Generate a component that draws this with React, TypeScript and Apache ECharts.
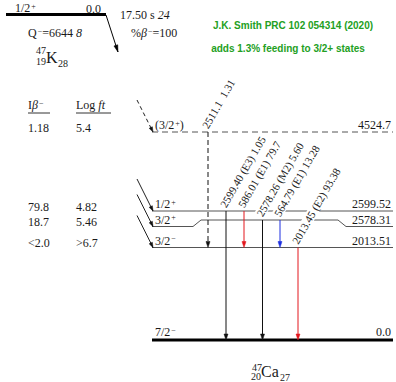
import React, { useEffect, useRef } from "react";
import * as echarts from "echarts";

// ---------------- data ----------------
const parentSpin = "1/2+";
const parentEnergy = "0.0";
const parentHalfLife = "17.50 s";
const parentHalfLifeUnc = "24";
const qValue = "6644";
const qValueUnc = "8";
const betaBranch = "100";
const noteLines = ["J.K. Smith PRC 102 054314 (2020)", "adds 1.3% feeding to 3/2+ states"];

const levelEnergies = ["4524.7", "2599.52", "2578.31", "2013.51", "0.0"];
const levelSpins = ["(3/2+)", "1/2+", "3/2+", "3/2-", "7/2-"];
const betaIntensities = ["1.18", "79.8", "18.7", "<2.0", ""];
const logFtValues = ["5.4", "4.82", "5.46", ">6.7", ""];

const gammaEnergies = ["2511.1", "2599.40", "586.01", "2578.26", "564.79", "2013.45"];
const gammaMultipolarities = ["", "(E3)", "(E1)", "(M2)", "(E1)", "(E2)"];
const gammaIntensities = ["1.31", "1.05", "79.7", "5.60", "13.28", "93.38"];
const gammaFromLevel = [0, 1, 1, 2, 2, 3];
const gammaToLevel = [3, 4, 3, 4, 3, 4];

// ---------------- layout ----------------
const SERIF = "'Liberation Serif', 'Times New Roman', serif";
const SANS = "'Liberation Sans', Arial, sans-serif";
const LEVEL_Y = [132, 211, 226.5, 247.5, 340];
const LEVEL_X0 = 152;
const LEVEL_X1 = 393;
const KINK = { level: 2, y: 220, xs: [193, 201, 338, 346] };
const GAMMA_X = [208, 226, 244, 262.5, 280, 298];
const GAMMA_COLORS = ["#111", "#111", "#e3161d", "#111", "#1c2fe0", "#e3161d"];
const TEXT = "#1a1a1a";

const RICH = {
  p: { fontSize: 8, fontFamily: SERIF, fill: TEXT, verticalAlign: "top", padding: [0, 0, 0, 1] },
  i: { fontSize: 12, fontFamily: SERIF, fill: TEXT, fontStyle: "italic" },
};

// "+"/"-" in spins and signs become raised superscripts
function supRich(s: string) {
  return s.replace(/[+-]/g, (m) => `{p|${m === "-" ? "−" : "+"}}`);
}

function levelYAt(i: number, x: number) {
  if (i === KINK.level && x >= KINK.xs[1] && x <= KINK.xs[2]) return KINK.y;
  return LEVEL_Y[i];
}

function arrowHead(tip: number[], from: number[], color: string, len = 6, hw = 2) {
  const dx = tip[0] - from[0];
  const dy = tip[1] - from[1];
  const l = Math.hypot(dx, dy) || 1;
  const ux = dx / l;
  const uy = dy / l;
  const bx = tip[0] - ux * len;
  const by = tip[1] - uy * len;
  return {
    type: "polygon",
    shape: { points: [tip, [bx - uy * hw, by + ux * hw], [bx + uy * hw, by - ux * hw]] },
    style: { fill: color, stroke: color, lineWidth: 0.5 },
  };
}

function txt(x: number, y: number, text: string, size: number, align: string, vAlign: string, extra: any = {}) {
  return {
    type: "text",
    x,
    y,
    style: {
      text,
      x: 0,
      y: 0,
      fontSize: size,
      fontFamily: SERIF,
      fill: TEXT,
      align,
      verticalAlign: vAlign,
      rich: RICH,
      ...extra,
    },
  };
}

const parentSeries = {
  type: "custom",
  coordinateSystem: "cartesian2d",
  z: 2,
  data: [[0, 0]],
  renderItem: (_params: any, api: any) => {
    const P = (x: number, y: number) => api.coord([x, y]);
    const l0 = P(6, 14.5);
    const l1 = P(106, 14.5);
    const a = P(106, 15);
    const b = P(118, 52);
    return {
      type: "group",
      children: [
        { type: "line", shape: { x1: l0[0], y1: l0[1], x2: l1[0], y2: l1[1] }, style: { stroke: "#000", lineWidth: 3 } },
        { type: "line", shape: { x1: a[0], y1: a[1], x2: b[0], y2: b[1] }, style: { stroke: "#000", lineWidth: 1 } },
        arrowHead(b, a, "#000", 7, 2),
      ],
    };
  },
};

const levelSeries = {
  type: "custom",
  coordinateSystem: "cartesian2d",
  z: 2,
  data: levelEnergies.map((_e, i) => [i, i]),
  renderItem: (params: any, api: any) => {
    const i = params.dataIndex;
    const P = (x: number, y: number) => api.coord([x, y]);
    const y = LEVEL_Y[i];
    const tentative = levelSpins[i].startsWith("(");
    const ground = levelEnergies[i] === "0.0";
    let pts: number[][];
    if (i === KINK.level) {
      pts = [[LEVEL_X0, y], [KINK.xs[0], y], [KINK.xs[1], KINK.y], [KINK.xs[2], KINK.y], [KINK.xs[3], y], [LEVEL_X1, y]];
    } else {
      pts = [[LEVEL_X0, y], [LEVEL_X1, y]];
    }
    const children: any[] = [
      {
        type: "polyline",
        shape: { points: pts.map((p) => P(p[0], p[1])) },
        style: { stroke: ground ? "#000" : "#555", lineWidth: ground ? 3 : 1, lineDash: tentative ? [6, 4] : null, fill: "none" },
      },
    ];
    const s = P(155, y - (ground ? 2 : 1));
    children.push(txt(s[0], s[1], supRich(levelSpins[i]), 12, "left", "bottom"));
    const e = P(391, y - (ground ? 2 : 1));
    children.push(txt(e[0], e[1], levelEnergies[i], 12, "right", "bottom"));
    if (betaIntensities[i]) {
      const b1 = P(28, y - 4.5);
      children.push(txt(b1[0], b1[1], betaIntensities[i], 12, "left", "middle"));
      const b2 = P(76, y - 4.5);
      children.push(txt(b2[0], b2[1], logFtValues[i], 12, "left", "middle"));
    }
    if (!ground) {
      const from = P(137, y - 32);
      const tip = P(153, y);
      children.push({
        type: "line",
        shape: { x1: from[0], y1: from[1], x2: tip[0], y2: tip[1] },
        style: { stroke: "#222", lineWidth: 1, lineDash: tentative ? [4, 3] : null },
      });
      children.push(arrowHead(tip, from, "#111", 5, 1.8));
    }
    return { type: "group", children };
  },
};

const gammaSeries = {
  type: "custom",
  coordinateSystem: "cartesian2d",
  z: 3,
  data: gammaEnergies.map((_e, i) => [i, i]),
  renderItem: (params: any, api: any) => {
    const i = params.dataIndex;
    const P = (x: number, y: number) => api.coord([x, y]);
    const x = GAMMA_X[i];
    const y1 = levelYAt(gammaFromLevel[i], x);
    const y2 = levelYAt(gammaToLevel[i], x);
    const color = GAMMA_COLORS[i];
    const dashed = levelSpins[gammaFromLevel[i]].startsWith("(");
    const top = P(x, y1);
    const tip = P(x, y2);
    const label = gammaMultipolarities[i]
      ? `${gammaEnergies[i]} ${gammaMultipolarities[i]} ${gammaIntensities[i]}`
      : `${gammaEnergies[i]}  ${gammaIntensities[i]}`;
    const anchor = P(x + 1, y1 - 1);
    return {
      type: "group",
      children: [
        {
          type: "line",
          shape: { x1: top[0], y1: top[1], x2: tip[0], y2: tip[1] - 4 },
          style: { stroke: color, lineWidth: 1, lineDash: dashed ? [5, 3] : null },
        },
        arrowHead(tip, top, color, 6, 2),
        {
          type: "text",
          x: anchor[0],
          y: anchor[1],
          rotation: Math.PI / 3,
          style: {
            text: label,
            x: 0,
            y: 0,
            fontSize: 11,
            fontFamily: SERIF,
            fill: "#222",
            align: "left",
            verticalAlign: "bottom",
            backgroundColor: "#fff",
            padding: [0, 1, 0, 1],
          },
        },
      ],
    };
  },
};

const graphic: any[] = [
  txt(15, 8, supRich(parentSpin), 12, "left", "middle"),
  txt(86, 9, parentEnergy, 12, "left", "middle"),
  txt(120, 15, `${parentHalfLife} {i|${parentHalfLifeUnc}}`, 12, "left", "middle"),
  txt(28, 33, `Q{p|−}=${qValue} {i|${qValueUnc}}`, 12, "left", "middle"),
  txt(131, 33, `%{i|β}{p|−}=${betaBranch}`, 12, "left", "middle"),
  txt(36, 50, "47", 10, "left", "middle"),
  txt(36, 61, "19", 10, "left", "middle"),
  txt(46, 57, "K", 16, "left", "middle"),
  txt(58, 63, "28", 10, "left", "middle"),
  txt(252, 367, "47", 10, "left", "middle"),
  txt(251, 376.5, "20", 10, "left", "middle"),
  txt(261, 371.5, "Ca", 16, "left", "middle"),
  txt(280, 377, "27", 10, "left", "middle"),
  txt(28, 105, "I{i|β}{p|−}", 12, "left", "middle"),
  txt(76, 105, "Log {i|ft}", 12, "left", "middle"),
  { type: "line", shape: { x1: 28, y1: 113, x2: 50, y2: 113 }, style: { stroke: "#333", lineWidth: 1 } },
  { type: "line", shape: { x1: 76, y1: 113, x2: 111, y2: 113 }, style: { stroke: "#333", lineWidth: 1 } },
  {
    type: "text",
    x: 293,
    y: 25,
    style: { text: noteLines[0], fontSize: 10, fontFamily: SANS, fontWeight: "bold", fill: "#23a023", align: "center", verticalAlign: "middle" },
  },
  {
    type: "text",
    x: 288,
    y: 48,
    style: { text: noteLines[1], fontSize: 10, fontFamily: SANS, fontWeight: "bold", fill: "#23a023", align: "center", verticalAlign: "middle" },
  },
];

const option: any = {
  animation: false,
  backgroundColor: "#fff",
  grid: { left: 0, right: 0, top: 0, bottom: 0 },
  xAxis: { type: "value", min: 0, max: 396, show: false },
  yAxis: { type: "value", min: 0, max: 382, inverse: true, show: false },
  series: [parentSeries, levelSeries, gammaSeries],
  graphic,
};

export default function App() {
  const ref = useRef<HTMLDivElement>(null);
  useEffect(() => {
    const chart = echarts.init(ref.current!, null, { renderer: "svg" });
    chart.setOption(option);
    return () => chart.dispose();
  }, []);
  return (
    <div
      ref={ref}
      style={{ position: "fixed", left: 0, top: 0, width: 396, height: 382, background: "#fff" }}
    />
  );
}
